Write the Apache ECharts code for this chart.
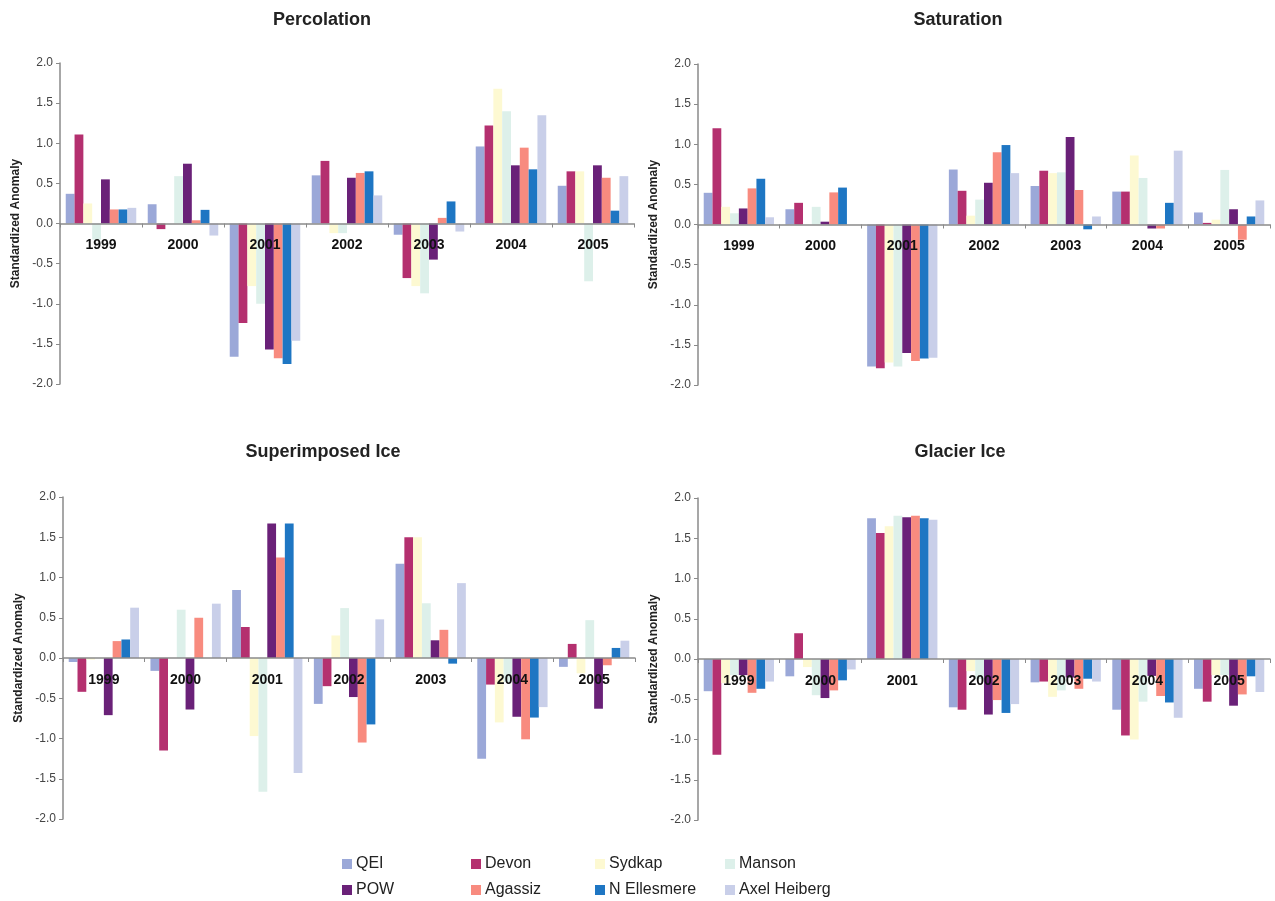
<!DOCTYPE html>
<html>
<head>
<meta charset="utf-8">
<script src="https://cdn.jsdelivr.net/npm/echarts@6/dist/echarts.min.js"></script>
<style>html,body{margin:0;padding:0;background:#fff}#c{width:1275px;height:901px}</style>
</head>
<body>
<div id="c"></div>
<script>
const years = ['1999','2000','2001','2002','2003','2004','2005'];
const stations = ['QEI','Devon','Sydkap','Manson','POW','Agassiz','N Ellesmere','Axel Heiberg'];
const colors = ['#9ba8d8','#b4306f','#fdf9d2','#ddf0ea','#6a2178','#f88b7f','#1e76c3','#c9cfe9'];
const panelTitles = ['Percolation','Saturation','Superimposed Ice','Glacier Ice'];

// rows = stations, columns = years
const percolation = [
  [0.37, 0.24, -1.66, 0.60, -0.14, 0.96, 0.47],
  [1.11, -0.07, -1.24, 0.78, -0.68, 1.22, 0.65],
  [0.25, 0.00, -0.78, -0.12, -0.78, 1.68, 0.65],
  [-0.20, 0.59, -1.00, -0.12, -0.87, 1.40, -0.72],
  [0.55, 0.745, -1.57, 0.57, -0.45, 0.725, 0.725],
  [0.175, 0.04, -1.68, 0.63, 0.07, 0.945, 0.57],
  [0.175, 0.17, -1.75, 0.65, 0.275, 0.675, 0.16],
  [0.195, -0.15, -1.46, 0.35, -0.10, 1.35, 0.59]
];
const saturation = [
  [0.395, 0.19, -1.77, 0.685, 0.48, 0.41, 0.15],
  [1.20, 0.27, -1.79, 0.42, 0.67, 0.41, 0.02],
  [0.22, 0.00, -1.72, 0.11, 0.64, 0.86, 0.06],
  [0.14, 0.22, -1.77, 0.31, 0.65, 0.58, 0.68],
  [0.20, 0.035, -1.60, 0.52, 1.09, -0.05, 0.19],
  [0.45, 0.40, -1.70, 0.90, 0.43, -0.05, -0.19],
  [0.57, 0.46, -1.67, 0.99, -0.06, 0.27, 0.10],
  [0.09, 0.00, -1.66, 0.64, 0.10, 0.92, 0.30]
];
const superimposed = [
  [-0.05, -0.16, 0.845, -0.57, 1.17, -1.25, -0.11],
  [-0.42, -1.15, 0.385, -0.35, 1.50, -0.33, 0.175],
  [-0.02, 0.00, -0.97, 0.28, 1.50, -0.80, -0.19],
  [0.00, 0.60, -1.66, 0.62, 0.68, -0.30, 0.47],
  [-0.71, -0.64, 1.67, -0.485, 0.22, -0.73, -0.63],
  [0.21, 0.50, 1.25, -1.05, 0.35, -1.01, -0.09],
  [0.23, 0.00, 1.67, -0.825, -0.07, -0.74, 0.125],
  [0.625, 0.675, -1.43, 0.48, 0.93, -0.61, 0.215]
];
const glacier = [
  [-0.40, -0.215, 1.75, -0.60, -0.29, -0.63, -0.37],
  [-1.19, 0.32, 1.565, -0.63, -0.28, -0.95, -0.53],
  [-0.30, -0.10, 1.65, -0.15, -0.47, -1.00, -0.20],
  [-0.20, -0.45, 1.78, -0.25, -0.39, -0.53, -0.20],
  [-0.20, -0.485, 1.76, -0.69, -0.23, -0.21, -0.58],
  [-0.42, -0.39, 1.78, -0.51, -0.37, -0.46, -0.44],
  [-0.37, -0.265, 1.75, -0.67, -0.245, -0.54, -0.215],
  [-0.28, -0.13, 1.73, -0.56, -0.28, -0.73, -0.41]
];
const panelData = [percolation, saturation, superimposed, glacier];

const FONT = '"Liberation Sans", Arial, sans-serif';
const grids = [
  {left: 60, top: 63, width: 574, height: 321},
  {left: 698, top: 64, width: 572, height: 321},
  {left: 63, top: 497, width: 572, height: 322},
  {left: 698, top: 498, width: 572, height: 322}
];
const titlePos = [
  {left: 317, top: 6},
  {left: 953, top: 6},
  {left: 318, top: 438},
  {left: 955, top: 438}
];

const option = {
  animation: false,
  backgroundColor: '#fff',
  title: panelTitles.map((t, i) => ({
    text: t, left: titlePos[i].left, top: titlePos[i].top, textAlign: 'center',
    textStyle: {fontFamily: FONT, fontSize: 18, fontWeight: 'bold', color: '#222'}
  })),
  grid: grids,
  xAxis: grids.map((g, i) => ({
    type: 'category', gridIndex: i, data: years, z: 5,
    axisLine: {onZero: true, lineStyle: {color: '#8a8a8a', width: 1.5}},
    axisTick: {show: true, length: 4, lineStyle: {color: '#8a8a8a'}},
    axisLabel: {show: false},
    splitLine: {show: false}
  })),
  yAxis: grids.map((g, i) => ({
    type: 'value', gridIndex: i, min: -2, max: 2, interval: 0.5,
    name: 'Standardized Anomaly', nameLocation: 'middle', nameGap: 38,
    nameTextStyle: {fontFamily: FONT, fontSize: 12, fontWeight: 'bold', color: '#222'},
    axisLine: {show: true, lineStyle: {color: '#8a8a8a', width: 1.5}},
    axisTick: {show: true, length: 4, lineStyle: {color: '#8a8a8a'}},
    axisLabel: {fontFamily: FONT, fontSize: 12, color: '#444', margin: 7,
      formatter: v => v.toFixed(1)},
    splitLine: {show: false}
  })),
  legend: stations.map((s, k) => {
    const col = k % 4, row = Math.floor(k / 4);
    const lefts = [337, 466, 590, 720];
    return {
      data: [s], left: lefts[col], top: row === 0 ? 851 : 877,
      itemWidth: 10, itemHeight: 10, itemGap: 4,
      icon: 'rect',
      textStyle: {fontFamily: FONT, fontSize: 16, color: '#222', padding: [0,0,0,-1]},
      selectedMode: false
    };
  }),
  series: []
};

panelData.forEach((pd, i) => {
  stations.forEach((s, k) => {
    option.series.push({
      type: 'bar', name: s, xAxisIndex: i, yAxisIndex: i,
      data: pd[k], barGap: '0%', barCategoryGap: '14%',
      itemStyle: {color: colors[k]}
    });
  });
  // category labels hanging just below the zero line
  option.series.push({
    type: 'scatter', xAxisIndex: i, yAxisIndex: i, z: 10,
    symbolSize: 0, silent: true,
    data: years.map(y => [y, 0]),
    label: {
      show: true, position: 'bottom', distance: 15,
      formatter: p => p.value[0],
      fontFamily: FONT, fontSize: 14, fontWeight: 'bold', color: '#111',
      textBorderWidth: 0, opacity: 1
    },
    emphasis: {disabled: true}
  });
});

const chart = echarts.init(document.getElementById('c'), null, {renderer: 'canvas'});
chart.setOption(option);
</script>
</body>
</html>
